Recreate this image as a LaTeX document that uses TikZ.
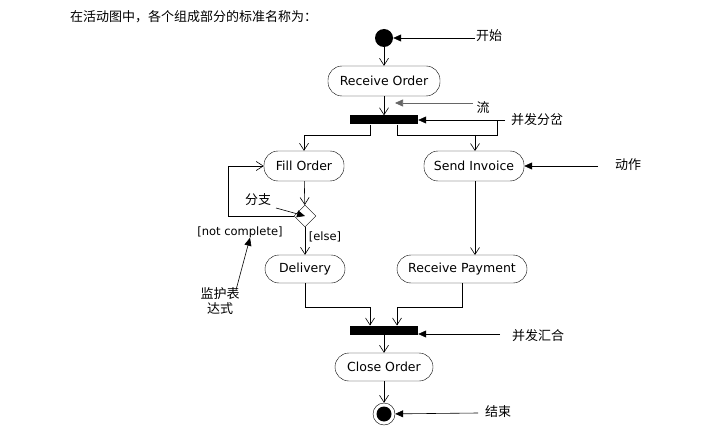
\documentclass[tikz,border=0pt]{standalone}
\usepackage{fontspec}
\setmainfont{DejaVu Sans}
\newfontfamily\cjk{Noto Sans CJK SC}
\usetikzlibrary{arrows.meta,shapes.geometric}
\begin{document}
\begin{tikzpicture}[x=1pt,y=-1pt,
  act/.style={draw,rounded corners=14pt,minimum height=30pt,inner sep=0pt,font=\fontsize{12.5}{14}\selectfont},
  bar/.style={fill=black,minimum width=68pt,minimum height=9pt,inner sep=0pt},
  flow/.style={draw,-{Straight Barb[length=7pt,width=9pt]},line width=0.6pt},
  note/.style={draw,-{Triangle[length=8pt,width=7pt]},line width=0.6pt},
  lbl/.style={font=\cjk\fontsize{13}{15}\selectfont,inner sep=0pt},
  grd/.style={font=\fontsize{11.5}{13}\selectfont,inner sep=0pt}]
\useasboundingbox (0,0) rectangle (723,441);
\node[lbl,anchor=west] (title) at (70,17) {在活动图中，各个组成部分的标准名称为：};
\node[circle,fill=black,minimum size=18pt,inner sep=0pt] (start) at (384,38) {};
\node[act,minimum width=112pt] (ro) at (384,81) {Receive Order};
\node[bar] (fork) at (384,120) {};
\node[act,minimum width=80pt] (fo) at (304,166) {Fill Order};
\node[act,minimum width=100pt] (si) at (474,166) {Send Invoice};
\node[diamond,draw,minimum size=22pt,inner sep=0pt] (dec) at (305,216) {};
\node[act,minimum width=80pt,minimum height=28pt] (del) at (305,269) {Delivery};
\node[act,minimum width=130pt,minimum height=28pt] (rp) at (462,269) {Receive Payment};
\node[bar] (join) at (384,330) {};
\node[act,minimum width=98pt,minimum height=28pt] (co) at (384,367) {Close Order};
\node[circle,draw,minimum size=22pt,inner sep=0pt] (end) at (384,414) {};
\node[circle,fill=black,minimum size=15pt,inner sep=0pt] at (end) {};
\node[grd] (nc) at (240,232) {[not complete]};
\node[grd] (el) at (325,237) {[else]};
% flows
\draw[flow] (start) -- (ro);
\draw[flow] (ro) -- (fork);
\draw[flow] (fork.south -| 370,0) -- (370,135) -- (304,135) -- (fo);
\draw (fork.south -| 397,0) -- (397,135) -- (497,135) -- (497,120);
\draw[flow] (475,135) -- (475,151);
\draw[flow] (fo) -- (dec);
\draw[flow] (dec.west) -- (228,216) -- (228,166) -- (fo);
\draw[flow] (dec) -- (del);
\draw[flow] (si.south -| 475,0) -- (475,255);
\draw[flow] (del) -- (305,307) -- (370,307) -- (370,325.5);
\draw[flow] (rp.south) -- (462,307) -- (397,307) -- (397,325.5);
\draw[flow] (join) -- (co);
\draw[flow] (co) -- (end);
% annotations
\node[lbl] (l1) at (489,36) {开始};
\node[lbl] (l2) at (483,108) {流};
\node[lbl] (l3) at (537,120) {并发分岔};
\node[lbl] (l4) at (628,165) {动作};
\node[lbl] (l5) at (258,200) {分支};
\node[lbl,align=center] (l6) at (220,301) {监护表\\达式};
\node[lbl] (l7) at (538,336) {并发汇合};
\node[lbl] (l8) at (498,412) {结束};
\coordinate (c1) at (475,38);
\coordinate (c2) at (473,103);
\coordinate (c3) at (505,120);
\coordinate (c4) at (598,166);
\coordinate (c5) at (276,208);
\coordinate (c6) at (236,290);
\coordinate (c7) at (500,334);
\coordinate (c8) at (478,413);
\draw[note] (c1) -- (start);
\draw[note,gray!80!black] (c2) -- (395,103);
\draw[note] (c3) -- (fork.east);
\draw[note] (c4) -- (si);
\draw[note] (c5) -- (dec.center);
\draw[note] (c6) -- (nc.south -| 250,0);
\draw[note] (c7) -- (join.east |- 0,334);
\draw[note] (c8) -- (end);
\end{tikzpicture}
\end{document}
